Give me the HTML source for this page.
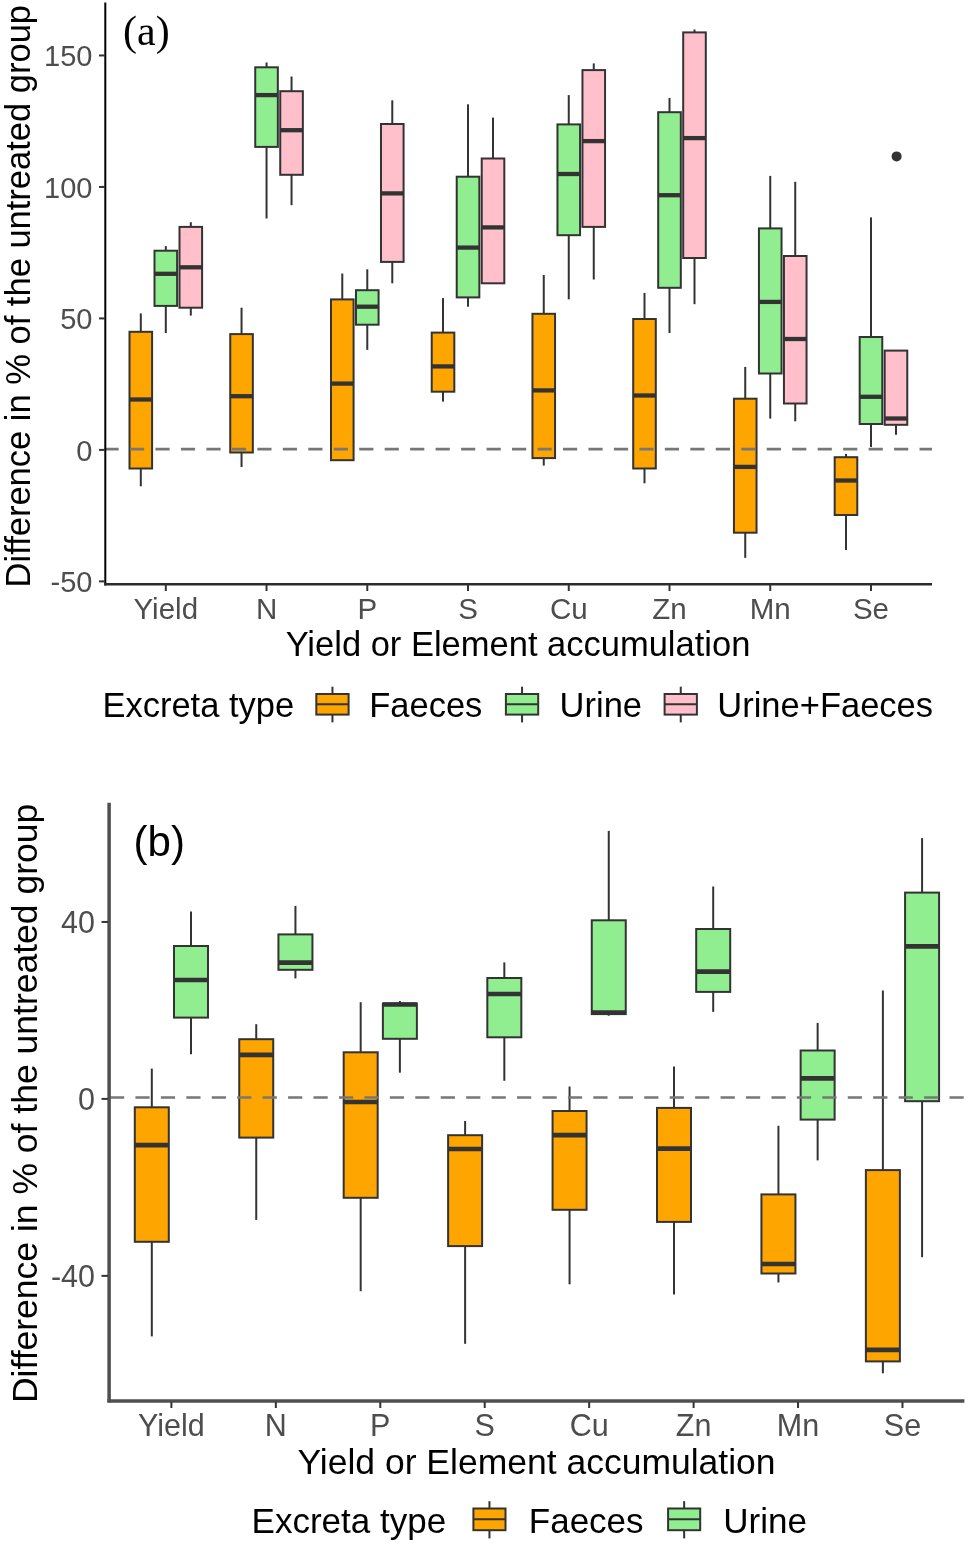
<!DOCTYPE html>
<html><head><meta charset="utf-8"><title>Boxplots</title>
<style>
html,body{margin:0;padding:0;background:#fff;}
body{width:968px;height:1544px;overflow:hidden;}
svg{display:block;filter:blur(0.4px);}
text{font-family:"Liberation Sans",sans-serif;}
.tk{fill:#4D4D4D;}
.ti{fill:#000;}
.serif{font-family:"Liberation Serif",serif;}
</style></head><body>
<svg width="968" height="1544" viewBox="0 0 968 1544">
<rect x="0" y="0" width="968" height="1544" fill="#fff"/>
<line x1="140.8" y1="313.4" x2="140.8" y2="331.8" stroke="#333333" stroke-width="2.0"/>
<line x1="140.8" y1="468.5" x2="140.8" y2="486.3" stroke="#333333" stroke-width="2.0"/>
<rect x="129.5" y="331.8" width="22.6" height="136.7" fill="#FFA500" stroke="#333333" stroke-width="2.0"/>
<line x1="129.5" y1="399.5" x2="152.1" y2="399.5" stroke="#333333" stroke-width="4.3"/>
<line x1="165.8" y1="246.1" x2="165.8" y2="250.7" stroke="#333333" stroke-width="2.0"/>
<line x1="165.8" y1="305.9" x2="165.8" y2="333.1" stroke="#333333" stroke-width="2.0"/>
<rect x="154.5" y="250.7" width="22.6" height="55.2" fill="#90EE90" stroke="#333333" stroke-width="2.0"/>
<line x1="154.5" y1="273.8" x2="177.1" y2="273.8" stroke="#333333" stroke-width="4.3"/>
<line x1="190.8" y1="222.2" x2="190.8" y2="226.9" stroke="#333333" stroke-width="2.0"/>
<line x1="190.8" y1="307.7" x2="190.8" y2="315.6" stroke="#333333" stroke-width="2.0"/>
<rect x="179.5" y="226.9" width="22.6" height="80.8" fill="#FFC0CB" stroke="#333333" stroke-width="2.0"/>
<line x1="179.5" y1="267.3" x2="202.1" y2="267.3" stroke="#333333" stroke-width="4.3"/>
<line x1="241.54" y1="307.7" x2="241.54" y2="334.1" stroke="#333333" stroke-width="2.0"/>
<line x1="241.54" y1="452.5" x2="241.54" y2="467" stroke="#333333" stroke-width="2.0"/>
<rect x="230.24" y="334.1" width="22.6" height="118.4" fill="#FFA500" stroke="#333333" stroke-width="2.0"/>
<line x1="230.24" y1="396.2" x2="252.84" y2="396.2" stroke="#333333" stroke-width="4.3"/>
<line x1="266.54" y1="62.5" x2="266.54" y2="67.3" stroke="#333333" stroke-width="2.0"/>
<line x1="266.54" y1="146.9" x2="266.54" y2="218.5" stroke="#333333" stroke-width="2.0"/>
<rect x="255.24" y="67.3" width="22.6" height="79.6" fill="#90EE90" stroke="#333333" stroke-width="2.0"/>
<line x1="255.24" y1="95.1" x2="277.84" y2="95.1" stroke="#333333" stroke-width="4.3"/>
<line x1="291.54" y1="76.5" x2="291.54" y2="91.2" stroke="#333333" stroke-width="2.0"/>
<line x1="291.54" y1="174.8" x2="291.54" y2="205.2" stroke="#333333" stroke-width="2.0"/>
<rect x="280.24" y="91.2" width="22.6" height="83.6" fill="#FFC0CB" stroke="#333333" stroke-width="2.0"/>
<line x1="280.24" y1="130.2" x2="302.84" y2="130.2" stroke="#333333" stroke-width="4.3"/>
<line x1="342.28" y1="273.5" x2="342.28" y2="299.4" stroke="#333333" stroke-width="2.0"/>
<rect x="330.98" y="299.4" width="22.6" height="160.8" fill="#FFA500" stroke="#333333" stroke-width="2.0"/>
<line x1="330.98" y1="383.6" x2="353.58" y2="383.6" stroke="#333333" stroke-width="4.3"/>
<line x1="367.28" y1="269.3" x2="367.28" y2="290.2" stroke="#333333" stroke-width="2.0"/>
<line x1="367.28" y1="324.7" x2="367.28" y2="349.9" stroke="#333333" stroke-width="2.0"/>
<rect x="355.98" y="290.2" width="22.6" height="34.5" fill="#90EE90" stroke="#333333" stroke-width="2.0"/>
<line x1="355.98" y1="306.7" x2="378.58" y2="306.7" stroke="#333333" stroke-width="4.3"/>
<line x1="392.28" y1="100.3" x2="392.28" y2="124" stroke="#333333" stroke-width="2.0"/>
<line x1="392.28" y1="261.9" x2="392.28" y2="283.3" stroke="#333333" stroke-width="2.0"/>
<rect x="380.98" y="124" width="22.6" height="137.9" fill="#FFC0CB" stroke="#333333" stroke-width="2.0"/>
<line x1="380.98" y1="193.4" x2="403.58" y2="193.4" stroke="#333333" stroke-width="4.3"/>
<line x1="443.02" y1="298.1" x2="443.02" y2="332.6" stroke="#333333" stroke-width="2.0"/>
<line x1="443.02" y1="391.7" x2="443.02" y2="401.6" stroke="#333333" stroke-width="2.0"/>
<rect x="431.72" y="332.6" width="22.6" height="59.1" fill="#FFA500" stroke="#333333" stroke-width="2.0"/>
<line x1="431.72" y1="366.4" x2="454.32" y2="366.4" stroke="#333333" stroke-width="4.3"/>
<line x1="468.02" y1="104.3" x2="468.02" y2="176.7" stroke="#333333" stroke-width="2.0"/>
<line x1="468.02" y1="297.4" x2="468.02" y2="306.7" stroke="#333333" stroke-width="2.0"/>
<rect x="456.72" y="176.7" width="22.6" height="120.7" fill="#90EE90" stroke="#333333" stroke-width="2.0"/>
<line x1="456.72" y1="247.6" x2="479.32" y2="247.6" stroke="#333333" stroke-width="4.3"/>
<line x1="493.02" y1="117.6" x2="493.02" y2="158.5" stroke="#333333" stroke-width="2.0"/>
<rect x="481.72" y="158.5" width="22.6" height="124.8" fill="#FFC0CB" stroke="#333333" stroke-width="2.0"/>
<line x1="481.72" y1="227.4" x2="504.32" y2="227.4" stroke="#333333" stroke-width="4.3"/>
<line x1="543.76" y1="275" x2="543.76" y2="313.8" stroke="#333333" stroke-width="2.0"/>
<line x1="543.76" y1="458.1" x2="543.76" y2="465.6" stroke="#333333" stroke-width="2.0"/>
<rect x="532.46" y="313.8" width="22.6" height="144.3" fill="#FFA500" stroke="#333333" stroke-width="2.0"/>
<line x1="532.46" y1="390.4" x2="555.06" y2="390.4" stroke="#333333" stroke-width="4.3"/>
<line x1="568.76" y1="95.1" x2="568.76" y2="124.4" stroke="#333333" stroke-width="2.0"/>
<line x1="568.76" y1="235.2" x2="568.76" y2="299.3" stroke="#333333" stroke-width="2.0"/>
<rect x="557.46" y="124.4" width="22.6" height="110.8" fill="#90EE90" stroke="#333333" stroke-width="2.0"/>
<line x1="557.46" y1="174" x2="580.06" y2="174" stroke="#333333" stroke-width="4.3"/>
<line x1="593.76" y1="63.4" x2="593.76" y2="70.1" stroke="#333333" stroke-width="2.0"/>
<line x1="593.76" y1="226.9" x2="593.76" y2="279.5" stroke="#333333" stroke-width="2.0"/>
<rect x="582.46" y="70.1" width="22.6" height="156.8" fill="#FFC0CB" stroke="#333333" stroke-width="2.0"/>
<line x1="582.46" y1="141.1" x2="605.06" y2="141.1" stroke="#333333" stroke-width="4.3"/>
<line x1="644.5" y1="292.9" x2="644.5" y2="319" stroke="#333333" stroke-width="2.0"/>
<line x1="644.5" y1="468.5" x2="644.5" y2="483.3" stroke="#333333" stroke-width="2.0"/>
<rect x="633.2" y="319" width="22.6" height="149.5" fill="#FFA500" stroke="#333333" stroke-width="2.0"/>
<line x1="633.2" y1="395.5" x2="655.8" y2="395.5" stroke="#333333" stroke-width="4.3"/>
<line x1="669.5" y1="97.9" x2="669.5" y2="112.2" stroke="#333333" stroke-width="2.0"/>
<line x1="669.5" y1="287.8" x2="669.5" y2="333" stroke="#333333" stroke-width="2.0"/>
<rect x="658.2" y="112.2" width="22.6" height="175.6" fill="#90EE90" stroke="#333333" stroke-width="2.0"/>
<line x1="658.2" y1="195.2" x2="680.8" y2="195.2" stroke="#333333" stroke-width="4.3"/>
<line x1="694.5" y1="29.5" x2="694.5" y2="32.4" stroke="#333333" stroke-width="2.0"/>
<line x1="694.5" y1="258" x2="694.5" y2="304.2" stroke="#333333" stroke-width="2.0"/>
<rect x="683.2" y="32.4" width="22.6" height="225.6" fill="#FFC0CB" stroke="#333333" stroke-width="2.0"/>
<line x1="683.2" y1="138.1" x2="705.8" y2="138.1" stroke="#333333" stroke-width="4.3"/>
<line x1="745.24" y1="366.9" x2="745.24" y2="398.7" stroke="#333333" stroke-width="2.0"/>
<line x1="745.24" y1="532.7" x2="745.24" y2="557.9" stroke="#333333" stroke-width="2.0"/>
<rect x="733.94" y="398.7" width="22.6" height="134" fill="#FFA500" stroke="#333333" stroke-width="2.0"/>
<line x1="733.94" y1="466.9" x2="756.54" y2="466.9" stroke="#333333" stroke-width="4.3"/>
<line x1="770.24" y1="175.9" x2="770.24" y2="228.4" stroke="#333333" stroke-width="2.0"/>
<line x1="770.24" y1="373.5" x2="770.24" y2="418.6" stroke="#333333" stroke-width="2.0"/>
<rect x="758.94" y="228.4" width="22.6" height="145.1" fill="#90EE90" stroke="#333333" stroke-width="2.0"/>
<line x1="758.94" y1="301.9" x2="781.54" y2="301.9" stroke="#333333" stroke-width="4.3"/>
<line x1="795.24" y1="181.8" x2="795.24" y2="256" stroke="#333333" stroke-width="2.0"/>
<line x1="795.24" y1="403.5" x2="795.24" y2="421.3" stroke="#333333" stroke-width="2.0"/>
<rect x="783.94" y="256" width="22.6" height="147.5" fill="#FFC0CB" stroke="#333333" stroke-width="2.0"/>
<line x1="783.94" y1="339" x2="806.54" y2="339" stroke="#333333" stroke-width="4.3"/>
<line x1="845.98" y1="453.9" x2="845.98" y2="457.2" stroke="#333333" stroke-width="2.0"/>
<line x1="845.98" y1="515" x2="845.98" y2="550" stroke="#333333" stroke-width="2.0"/>
<rect x="834.68" y="457.2" width="22.6" height="57.8" fill="#FFA500" stroke="#333333" stroke-width="2.0"/>
<line x1="834.68" y1="480.5" x2="857.28" y2="480.5" stroke="#333333" stroke-width="4.3"/>
<line x1="870.98" y1="217.4" x2="870.98" y2="337" stroke="#333333" stroke-width="2.0"/>
<line x1="870.98" y1="424" x2="870.98" y2="447" stroke="#333333" stroke-width="2.0"/>
<rect x="859.68" y="337" width="22.6" height="87" fill="#90EE90" stroke="#333333" stroke-width="2.0"/>
<line x1="859.68" y1="396.8" x2="882.28" y2="396.8" stroke="#333333" stroke-width="4.3"/>
<line x1="895.98" y1="424.8" x2="895.98" y2="434.8" stroke="#333333" stroke-width="2.0"/>
<rect x="884.68" y="350.6" width="22.6" height="74.2" fill="#FFC0CB" stroke="#333333" stroke-width="2.0"/>
<line x1="884.68" y1="418.5" x2="907.28" y2="418.5" stroke="#333333" stroke-width="4.3"/>
<circle cx="896.6" cy="156.4" r="5" fill="#333333"/>
<line x1="104.5" y1="449.2" x2="932" y2="449.2" stroke="#777777" stroke-width="2.7" stroke-dasharray="14.2 11.27"/>
<line x1="105.3" y1="2.5" x2="105.3" y2="585.4" stroke="#000" stroke-width="2"/>
<line x1="104.3" y1="584.3" x2="932" y2="584.3" stroke="#2b2b2b" stroke-width="2.6"/>
<line x1="99" y1="55.47" x2="105" y2="55.47" stroke="#333333" stroke-width="2"/>
<text x="92.5" y="66.07" text-anchor="end" class="tk" font-size="29">150</text>
<line x1="99" y1="186.95" x2="105" y2="186.95" stroke="#333333" stroke-width="2"/>
<text x="92.5" y="197.55" text-anchor="end" class="tk" font-size="29">100</text>
<line x1="99" y1="318.42" x2="105" y2="318.42" stroke="#333333" stroke-width="2"/>
<text x="92.5" y="329.02" text-anchor="end" class="tk" font-size="29">50</text>
<line x1="99" y1="449.9" x2="105" y2="449.9" stroke="#333333" stroke-width="2"/>
<text x="92.5" y="460.5" text-anchor="end" class="tk" font-size="29">0</text>
<line x1="99" y1="581.38" x2="105" y2="581.38" stroke="#333333" stroke-width="2"/>
<text x="92.5" y="591.98" text-anchor="end" class="tk" font-size="29">-50</text>
<line x1="165.8" y1="585" x2="165.8" y2="591" stroke="#333333" stroke-width="2"/>
<text x="165.8" y="619" text-anchor="middle" class="tk" font-size="29.5">Yield</text>
<line x1="266.54" y1="585" x2="266.54" y2="591" stroke="#333333" stroke-width="2"/>
<text x="266.54" y="619" text-anchor="middle" class="tk" font-size="29.5">N</text>
<line x1="367.28" y1="585" x2="367.28" y2="591" stroke="#333333" stroke-width="2"/>
<text x="367.28" y="619" text-anchor="middle" class="tk" font-size="29.5">P</text>
<line x1="468.02" y1="585" x2="468.02" y2="591" stroke="#333333" stroke-width="2"/>
<text x="468.02" y="619" text-anchor="middle" class="tk" font-size="29.5">S</text>
<line x1="568.76" y1="585" x2="568.76" y2="591" stroke="#333333" stroke-width="2"/>
<text x="568.76" y="619" text-anchor="middle" class="tk" font-size="29.5">Cu</text>
<line x1="669.5" y1="585" x2="669.5" y2="591" stroke="#333333" stroke-width="2"/>
<text x="669.5" y="619" text-anchor="middle" class="tk" font-size="29.5">Zn</text>
<line x1="770.24" y1="585" x2="770.24" y2="591" stroke="#333333" stroke-width="2"/>
<text x="770.24" y="619" text-anchor="middle" class="tk" font-size="29.5">Mn</text>
<line x1="870.98" y1="585" x2="870.98" y2="591" stroke="#333333" stroke-width="2"/>
<text x="870.98" y="619" text-anchor="middle" class="tk" font-size="29.5">Se</text>
<text x="518" y="656" text-anchor="middle" class="ti" font-size="34.5">Yield or Element accumulation</text>
<text transform="translate(29.6,584.6) rotate(-90)" x="0" y="0" class="ti" font-size="34.5" dx="-2.8">Difference in % of the untreated group</text>
<text x="123" y="45.1" class="serif" font-size="42" fill="#000">(a)</text>
<text x="102.4" y="717" class="ti" font-size="34.5">Excreta type</text>
<line x1="332.45" y1="686.7" x2="332.45" y2="722.4" stroke="#333333" stroke-width="2.0"/>
<rect x="316.3" y="694" width="32.3" height="20.6" fill="#FFA500" stroke="#333333" stroke-width="2.0"/>
<line x1="316.3" y1="704.3" x2="348.6" y2="704.3" stroke="#333333" stroke-width="2.0"/>
<text x="369.2" y="717" class="ti" font-size="34.5">Faeces</text>
<line x1="522.05" y1="686.7" x2="522.05" y2="722.4" stroke="#333333" stroke-width="2.0"/>
<rect x="505.9" y="694" width="32.3" height="20.6" fill="#90EE90" stroke="#333333" stroke-width="2.0"/>
<line x1="505.9" y1="704.3" x2="538.2" y2="704.3" stroke="#333333" stroke-width="2.0"/>
<text x="559.6" y="717" class="ti" font-size="34.5">Urine</text>
<line x1="680.75" y1="686.7" x2="680.75" y2="722.4" stroke="#333333" stroke-width="2.0"/>
<rect x="664.6" y="694" width="32.3" height="20.6" fill="#FFC0CB" stroke="#333333" stroke-width="2.0"/>
<line x1="664.6" y1="704.3" x2="696.9" y2="704.3" stroke="#333333" stroke-width="2.0"/>
<text x="717.3" y="717" class="ti" font-size="34.5">Urine+Faeces</text>
<line x1="151.8" y1="1068.6" x2="151.8" y2="1107.3" stroke="#333333" stroke-width="2.0"/>
<line x1="151.8" y1="1241.8" x2="151.8" y2="1336.4" stroke="#333333" stroke-width="2.0"/>
<rect x="134.8" y="1107.3" width="34" height="134.5" fill="#FFA500" stroke="#333333" stroke-width="2.0"/>
<line x1="134.8" y1="1145.1" x2="168.8" y2="1145.1" stroke="#333333" stroke-width="4.7"/>
<line x1="191" y1="911.4" x2="191" y2="946" stroke="#333333" stroke-width="2.0"/>
<line x1="191" y1="1017.6" x2="191" y2="1054.3" stroke="#333333" stroke-width="2.0"/>
<rect x="174" y="946" width="34" height="71.6" fill="#90EE90" stroke="#333333" stroke-width="2.0"/>
<line x1="174" y1="980" x2="208" y2="980" stroke="#333333" stroke-width="4.7"/>
<line x1="256.24" y1="1024.2" x2="256.24" y2="1039.2" stroke="#333333" stroke-width="2.0"/>
<line x1="256.24" y1="1137.6" x2="256.24" y2="1219.9" stroke="#333333" stroke-width="2.0"/>
<rect x="239.24" y="1039.2" width="34" height="98.4" fill="#FFA500" stroke="#333333" stroke-width="2.0"/>
<line x1="239.24" y1="1054.9" x2="273.24" y2="1054.9" stroke="#333333" stroke-width="4.7"/>
<line x1="295.44" y1="905.9" x2="295.44" y2="934.4" stroke="#333333" stroke-width="2.0"/>
<line x1="295.44" y1="969.8" x2="295.44" y2="978.4" stroke="#333333" stroke-width="2.0"/>
<rect x="278.44" y="934.4" width="34" height="35.4" fill="#90EE90" stroke="#333333" stroke-width="2.0"/>
<line x1="278.44" y1="962.6" x2="312.44" y2="962.6" stroke="#333333" stroke-width="4.7"/>
<line x1="360.68" y1="1002.2" x2="360.68" y2="1052.3" stroke="#333333" stroke-width="2.0"/>
<line x1="360.68" y1="1197.8" x2="360.68" y2="1291.2" stroke="#333333" stroke-width="2.0"/>
<rect x="343.68" y="1052.3" width="34" height="145.5" fill="#FFA500" stroke="#333333" stroke-width="2.0"/>
<line x1="343.68" y1="1102" x2="377.68" y2="1102" stroke="#333333" stroke-width="4.7"/>
<line x1="399.88" y1="1001" x2="399.88" y2="1003.5" stroke="#333333" stroke-width="2.0"/>
<line x1="399.88" y1="1038.8" x2="399.88" y2="1072.7" stroke="#333333" stroke-width="2.0"/>
<rect x="382.88" y="1003.5" width="34" height="35.3" fill="#90EE90" stroke="#333333" stroke-width="2.0"/>
<line x1="382.88" y1="1004.5" x2="416.88" y2="1004.5" stroke="#333333" stroke-width="4.7"/>
<line x1="465.12" y1="1121" x2="465.12" y2="1135.2" stroke="#333333" stroke-width="2.0"/>
<line x1="465.12" y1="1246.1" x2="465.12" y2="1343.8" stroke="#333333" stroke-width="2.0"/>
<rect x="448.12" y="1135.2" width="34" height="110.9" fill="#FFA500" stroke="#333333" stroke-width="2.0"/>
<line x1="448.12" y1="1149" x2="482.12" y2="1149" stroke="#333333" stroke-width="4.7"/>
<line x1="504.32" y1="962.4" x2="504.32" y2="978" stroke="#333333" stroke-width="2.0"/>
<line x1="504.32" y1="1037.3" x2="504.32" y2="1080.8" stroke="#333333" stroke-width="2.0"/>
<rect x="487.32" y="978" width="34" height="59.3" fill="#90EE90" stroke="#333333" stroke-width="2.0"/>
<line x1="487.32" y1="994" x2="521.32" y2="994" stroke="#333333" stroke-width="4.7"/>
<line x1="569.56" y1="1086.5" x2="569.56" y2="1111" stroke="#333333" stroke-width="2.0"/>
<line x1="569.56" y1="1209.8" x2="569.56" y2="1284.3" stroke="#333333" stroke-width="2.0"/>
<rect x="552.56" y="1111" width="34" height="98.8" fill="#FFA500" stroke="#333333" stroke-width="2.0"/>
<line x1="552.56" y1="1135.2" x2="586.56" y2="1135.2" stroke="#333333" stroke-width="4.7"/>
<line x1="608.76" y1="830.9" x2="608.76" y2="920.3" stroke="#333333" stroke-width="2.0"/>
<line x1="608.76" y1="1014.1" x2="608.76" y2="1015.7" stroke="#333333" stroke-width="2.0"/>
<rect x="591.76" y="920.3" width="34" height="93.8" fill="#90EE90" stroke="#333333" stroke-width="2.0"/>
<line x1="591.76" y1="1012.5" x2="625.76" y2="1012.5" stroke="#333333" stroke-width="4.7"/>
<line x1="674" y1="1066.6" x2="674" y2="1107.9" stroke="#333333" stroke-width="2.0"/>
<line x1="674" y1="1221.9" x2="674" y2="1294.5" stroke="#333333" stroke-width="2.0"/>
<rect x="657" y="1107.9" width="34" height="114" fill="#FFA500" stroke="#333333" stroke-width="2.0"/>
<line x1="657" y1="1148.6" x2="691" y2="1148.6" stroke="#333333" stroke-width="4.7"/>
<line x1="713.2" y1="886.5" x2="713.2" y2="929" stroke="#333333" stroke-width="2.0"/>
<line x1="713.2" y1="991.9" x2="713.2" y2="1011.9" stroke="#333333" stroke-width="2.0"/>
<rect x="696.2" y="929" width="34" height="62.9" fill="#90EE90" stroke="#333333" stroke-width="2.0"/>
<line x1="696.2" y1="971.7" x2="730.2" y2="971.7" stroke="#333333" stroke-width="4.7"/>
<line x1="778.44" y1="1125.8" x2="778.44" y2="1194.4" stroke="#333333" stroke-width="2.0"/>
<line x1="778.44" y1="1273.5" x2="778.44" y2="1282.5" stroke="#333333" stroke-width="2.0"/>
<rect x="761.44" y="1194.4" width="34" height="79.1" fill="#FFA500" stroke="#333333" stroke-width="2.0"/>
<line x1="761.44" y1="1264" x2="795.44" y2="1264" stroke="#333333" stroke-width="4.7"/>
<line x1="817.64" y1="1022.9" x2="817.64" y2="1050.5" stroke="#333333" stroke-width="2.0"/>
<line x1="817.64" y1="1119.6" x2="817.64" y2="1160.4" stroke="#333333" stroke-width="2.0"/>
<rect x="800.64" y="1050.5" width="34" height="69.1" fill="#90EE90" stroke="#333333" stroke-width="2.0"/>
<line x1="800.64" y1="1078.3" x2="834.64" y2="1078.3" stroke="#333333" stroke-width="4.7"/>
<line x1="882.88" y1="990.5" x2="882.88" y2="1170.1" stroke="#333333" stroke-width="2.0"/>
<line x1="882.88" y1="1361.4" x2="882.88" y2="1373.3" stroke="#333333" stroke-width="2.0"/>
<rect x="865.88" y="1170.1" width="34" height="191.3" fill="#FFA500" stroke="#333333" stroke-width="2.0"/>
<line x1="865.88" y1="1349.8" x2="899.88" y2="1349.8" stroke="#333333" stroke-width="4.7"/>
<line x1="922.08" y1="838.1" x2="922.08" y2="892.6" stroke="#333333" stroke-width="2.0"/>
<line x1="922.08" y1="1101.2" x2="922.08" y2="1257.2" stroke="#333333" stroke-width="2.0"/>
<rect x="905.08" y="892.6" width="34" height="208.6" fill="#90EE90" stroke="#333333" stroke-width="2.0"/>
<line x1="905.08" y1="946.3" x2="939.08" y2="946.3" stroke="#333333" stroke-width="4.7"/>
<line x1="110.0" y1="1097.5" x2="964.4" y2="1097.5" stroke="#777777" stroke-width="2.7" stroke-dasharray="14.2 11.24"/>
<line x1="109.1" y1="802.8" x2="109.1" y2="1402.5" stroke="#4f4f4f" stroke-width="3.5"/>
<line x1="107.4" y1="1400.9" x2="964.4" y2="1400.9" stroke="#4f4f4f" stroke-width="3.5"/>
<line x1="101.5" y1="921.94" x2="108" y2="921.94" stroke="#333333" stroke-width="2"/>
<text x="95" y="933.14" text-anchor="end" class="tk" font-size="30.5">40</text>
<line x1="101.5" y1="1098.9" x2="108" y2="1098.9" stroke="#333333" stroke-width="2"/>
<text x="95" y="1110.1" text-anchor="end" class="tk" font-size="30.5">0</text>
<line x1="101.5" y1="1275.86" x2="108" y2="1275.86" stroke="#333333" stroke-width="2"/>
<text x="95" y="1287.06" text-anchor="end" class="tk" font-size="30.5">-40</text>
<line x1="171.4" y1="1402" x2="171.4" y2="1408" stroke="#333333" stroke-width="2"/>
<text x="171.4" y="1436.2" text-anchor="middle" class="tk" font-size="30.5">Yield</text>
<line x1="275.84" y1="1402" x2="275.84" y2="1408" stroke="#333333" stroke-width="2"/>
<text x="275.84" y="1436.2" text-anchor="middle" class="tk" font-size="30.5">N</text>
<line x1="380.28" y1="1402" x2="380.28" y2="1408" stroke="#333333" stroke-width="2"/>
<text x="380.28" y="1436.2" text-anchor="middle" class="tk" font-size="30.5">P</text>
<line x1="484.72" y1="1402" x2="484.72" y2="1408" stroke="#333333" stroke-width="2"/>
<text x="484.72" y="1436.2" text-anchor="middle" class="tk" font-size="30.5">S</text>
<line x1="589.16" y1="1402" x2="589.16" y2="1408" stroke="#333333" stroke-width="2"/>
<text x="589.16" y="1436.2" text-anchor="middle" class="tk" font-size="30.5">Cu</text>
<line x1="693.6" y1="1402" x2="693.6" y2="1408" stroke="#333333" stroke-width="2"/>
<text x="693.6" y="1436.2" text-anchor="middle" class="tk" font-size="30.5">Zn</text>
<line x1="798.04" y1="1402" x2="798.04" y2="1408" stroke="#333333" stroke-width="2"/>
<text x="798.04" y="1436.2" text-anchor="middle" class="tk" font-size="30.5">Mn</text>
<line x1="902.48" y1="1402" x2="902.48" y2="1408" stroke="#333333" stroke-width="2"/>
<text x="902.48" y="1436.2" text-anchor="middle" class="tk" font-size="30.5">Se</text>
<text x="536.5" y="1474.3" text-anchor="middle" class="ti" font-size="35.5">Yield or Element accumulation</text>
<text transform="translate(36.8,1400.2) rotate(-90)" x="0" y="0" class="ti" font-size="35.5" dx="-2.9">Difference in % of the untreated group</text>
<text x="133.6" y="855.8" class="ti" font-size="42">(b)</text>
<text x="251.6" y="1533.2" class="ti" font-size="35">Excreta type</text>
<line x1="489.45" y1="1501.2" x2="489.45" y2="1538.4" stroke="#333333" stroke-width="2.0"/>
<rect x="473.4" y="1508.5" width="32.1" height="21.7" fill="#FFA500" stroke="#333333" stroke-width="2.0"/>
<line x1="473.4" y1="1519.35" x2="505.5" y2="1519.35" stroke="#333333" stroke-width="2.0"/>
<text x="528.8" y="1533.2" class="ti" font-size="35">Faeces</text>
<line x1="684.15" y1="1501.2" x2="684.15" y2="1538.4" stroke="#333333" stroke-width="2.0"/>
<rect x="668.1" y="1508.5" width="32.1" height="21.7" fill="#90EE90" stroke="#333333" stroke-width="2.0"/>
<line x1="668.1" y1="1519.35" x2="700.2" y2="1519.35" stroke="#333333" stroke-width="2.0"/>
<text x="723.3" y="1533.2" class="ti" font-size="35">Urine</text>
</svg>
</body></html>
